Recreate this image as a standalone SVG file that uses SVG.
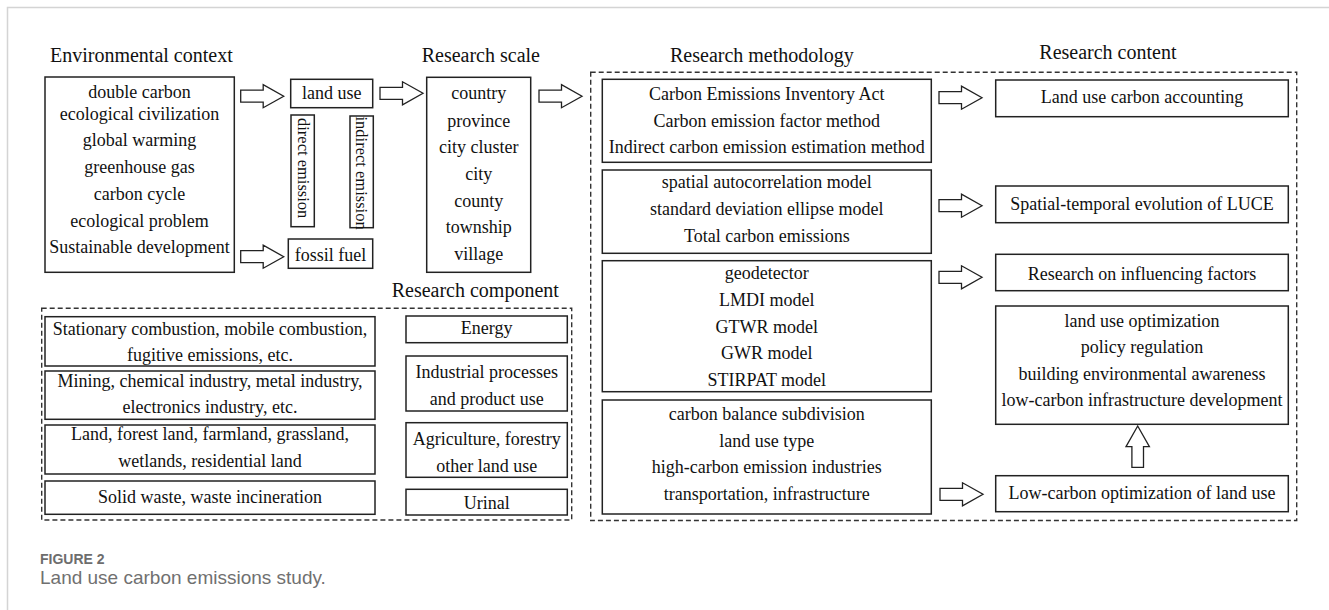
<svg xmlns="http://www.w3.org/2000/svg" xmlns:xlink="http://www.w3.org/1999/xlink" width="1329" height="610" viewBox="0 0 1329 610">
<style>
  .box { fill: #ffffff; stroke: #222222; stroke-width: 1.5; }
  .dash { fill: none; stroke: #333333; stroke-width: 1.4; stroke-dasharray: 5 3; }
  .t { font-family: "Liberation Serif", "Times New Roman", serif; font-size: 18px; fill: #111111; text-anchor: middle; }
  .tv { font-family: "Liberation Serif", "Times New Roman", serif; font-size: 16.5px; fill: #111111; }
  .title { font-family: "Liberation Serif", "Times New Roman", serif; font-size: 20px; fill: #111111; }
  .arrow { fill: #ffffff; stroke: #222222; stroke-width: 1.3; stroke-linejoin: miter; }
  .cap1 { font-family: "Liberation Sans", Arial, sans-serif; font-size: 14px; font-weight: bold; fill: #6d6d6d; }
  .cap2 { font-family: "Liberation Sans", Arial, sans-serif; font-size: 19px; fill: #707070; }
</style>
<defs>
  <path id="rarrow" d="M0,-6 H22.5 V-11.5 L43,0 L22.5,11.5 V6 H0 Z"/>
  <path id="uarrow" d="M0,0 L11.7,20.7 H5.8 V41.3 H-5.8 V20.7 H-11.7 Z"/>
</defs>
<rect width="1329" height="610" fill="#ffffff"/>
<path d="M7.5,610 V7.5 H1329" fill="none" stroke="#d4d4d4" stroke-width="1.5"/>

<g id="titles">
  <text class="title" x="50" y="61.7">Environmental context</text>
  <text class="title" x="421.7" y="61.7">Research scale</text>
  <text class="title" x="670" y="61.7">Research methodology</text>
  <text class="title" x="1039.3" y="58.5">Research content</text>
  <text class="title" x="391.7" y="297.3">Research component</text>
</g>

<g id="group-component">
  <rect class="dash" x="41.7" y="308.3" width="530" height="211.7"/>
</g>
<g id="group-methodology-content">
  <rect class="dash" x="590.7" y="72.3" width="706" height="448.2"/>
</g>

<g id="node-env">
  <rect class="box" x="45" y="77" width="189.3" height="195.3"/>
  <text class="t" x="139.5" y="98.3">double carbon</text>
  <text class="t" x="139.5" y="120">ecological civilization</text>
  <text class="t" x="139.5" y="146">global warming</text>
  <text class="t" x="139.5" y="172.7">greenhouse gas</text>
  <text class="t" x="139.5" y="200">carbon cycle</text>
  <text class="t" x="139.5" y="226.7">ecological problem</text>
  <text class="t" x="139.5" y="253.3">Sustainable development</text>
</g>

<g id="node-landuse">
  <rect class="box" x="290.7" y="79.3" width="82" height="28.4"/>
  <text class="t" x="331.7" y="99">land use</text>
</g>
<g id="node-direct">
  <rect class="box" x="291" y="115" width="23.3" height="111.7"/>
  <text class="tv" transform="translate(297.5,118) rotate(90)">direct emission</text>
</g>
<g id="node-indirect">
  <rect class="box" x="350" y="116" width="23.3" height="111.7"/>
  <text class="tv" transform="translate(356.2,116.5) rotate(90)">indirect emission</text>
</g>
<g id="node-fossil">
  <rect class="box" x="288.3" y="239" width="84.4" height="29.3"/>
  <text class="t" x="330.5" y="260.7">fossil fuel</text>
</g>

<g id="node-scale">
  <rect class="box" x="426.7" y="77.3" width="104" height="195"/>
  <text class="t" x="478.7" y="99.3">country</text>
  <text class="t" x="478.7" y="126.7">province</text>
  <text class="t" x="478.7" y="153.3">city cluster</text>
  <text class="t" x="478.7" y="180">city</text>
  <text class="t" x="478.7" y="206.7">county</text>
  <text class="t" x="478.7" y="233.3">township</text>
  <text class="t" x="478.7" y="260">village</text>
</g>

<g id="node-comp-energy-detail">
  <rect class="box" x="45" y="316.7" width="330" height="49.3"/>
  <text class="t" x="210" y="335">Stationary combustion, mobile combustion,</text>
  <text class="t" x="210" y="361">fugitive emissions, etc.</text>
</g>
<g id="node-comp-industry-detail">
  <rect class="box" x="45" y="371" width="330" height="48.3"/>
  <text class="t" x="210" y="386.5">Mining, chemical industry, metal industry,</text>
  <text class="t" x="210" y="413">electronics industry, etc.</text>
</g>
<g id="node-comp-land-detail">
  <rect class="box" x="45" y="425" width="330" height="49"/>
  <text class="t" x="210" y="440">Land, forest land, farmland, grassland,</text>
  <text class="t" x="210" y="466.5">wetlands, residential land</text>
</g>
<g id="node-comp-waste-detail">
  <rect class="box" x="45" y="481" width="330" height="33.3"/>
  <text class="t" x="210" y="503">Solid waste, waste incineration</text>
</g>
<g id="node-comp-energy">
  <rect class="box" x="406" y="316" width="161.3" height="26.7"/>
  <text class="t" x="486.7" y="334">Energy</text>
</g>
<g id="node-comp-industry">
  <rect class="box" x="406" y="356" width="161.3" height="55"/>
  <text class="t" x="486.7" y="378">Industrial processes</text>
  <text class="t" x="486.7" y="404.5">and product use</text>
</g>
<g id="node-comp-afolu">
  <rect class="box" x="406" y="422.7" width="161.3" height="54.6"/>
  <text class="t" x="486.7" y="445">Agriculture, forestry</text>
  <text class="t" x="486.7" y="471.5">other land use</text>
</g>
<g id="node-comp-urinal">
  <rect class="box" x="406" y="489.3" width="161.3" height="25.7"/>
  <text class="t" x="486.7" y="508.5">Urinal</text>
</g>

<g id="node-method-accounting">
  <rect class="box" x="602.3" y="79.3" width="329" height="83"/>
  <text class="t" x="766.8" y="100">Carbon Emissions Inventory Act</text>
  <text class="t" x="766.8" y="126.7">Carbon emission factor method</text>
  <text class="t" x="766.8" y="153.3">Indirect carbon emission estimation method</text>
</g>
<g id="node-method-spatial">
  <rect class="box" x="602.3" y="170" width="329" height="83.3"/>
  <text class="t" x="766.8" y="188.3">spatial autocorrelation model</text>
  <text class="t" x="766.8" y="215">standard deviation ellipse model</text>
  <text class="t" x="766.8" y="241.7">Total carbon emissions</text>
</g>
<g id="node-method-factors">
  <rect class="box" x="602.3" y="260.7" width="329" height="131"/>
  <text class="t" x="766.8" y="279.3">geodetector</text>
  <text class="t" x="766.8" y="306">LMDI model</text>
  <text class="t" x="766.8" y="332.7">GTWR model</text>
  <text class="t" x="766.8" y="359.3">GWR model</text>
  <text class="t" x="766.8" y="386">STIRPAT model</text>
</g>
<g id="node-method-lowcarbon">
  <rect class="box" x="602.3" y="400" width="329" height="114"/>
  <text class="t" x="766.8" y="420">carbon balance subdivision</text>
  <text class="t" x="766.8" y="446.7">land use type</text>
  <text class="t" x="766.8" y="473.3">high-carbon emission industries</text>
  <text class="t" x="766.8" y="500">transportation, infrastructure</text>
</g>

<g id="node-content-accounting">
  <rect class="box" x="995.7" y="80" width="292.6" height="36.7"/>
  <text class="t" x="1142" y="103.3">Land use carbon accounting</text>
</g>
<g id="node-content-evolution">
  <rect class="box" x="995.7" y="186" width="292.6" height="36.7"/>
  <text class="t" x="1142" y="210">Spatial-temporal evolution of LUCE</text>
</g>
<g id="node-content-factors">
  <rect class="box" x="995.7" y="254.3" width="292.6" height="36.4"/>
  <text class="t" x="1142" y="280">Research on influencing factors</text>
</g>
<g id="node-content-measures">
  <rect class="box" x="995.7" y="306" width="292.6" height="118.3"/>
  <text class="t" x="1142" y="326.5">land use optimization</text>
  <text class="t" x="1142" y="353">policy regulation</text>
  <text class="t" x="1142" y="379.5">building environmental awareness</text>
  <text class="t" x="1142" y="406">low-carbon infrastructure development</text>
</g>
<g id="node-content-lowcarbon">
  <rect class="box" x="995.7" y="475.7" width="292.6" height="36"/>
  <text class="t" x="1142" y="499">Low-carbon optimization of land use</text>
</g>

<g id="connectors">
  <use xlink:href="#rarrow" class="arrow" x="240.7" y="96.2"/>
  <use xlink:href="#rarrow" class="arrow" x="240.7" y="256.7"/>
  <use xlink:href="#rarrow" class="arrow" x="380" y="93.3"/>
  <use xlink:href="#rarrow" class="arrow" x="539" y="96.2"/>
  <use xlink:href="#rarrow" class="arrow" x="939" y="97.7"/>
  <use xlink:href="#rarrow" class="arrow" x="939" y="205.7"/>
  <use xlink:href="#rarrow" class="arrow" x="939" y="277.3"/>
  <use xlink:href="#rarrow" class="arrow" x="940" y="494.3"/>
  <use xlink:href="#uarrow" class="arrow" x="1137.7" y="426"/>
</g>

<g id="caption">
  <text class="cap1" x="40" y="564">FIGURE 2</text>
  <text class="cap2" x="40" y="584">Land use carbon emissions study.</text>
</g>
</svg>
